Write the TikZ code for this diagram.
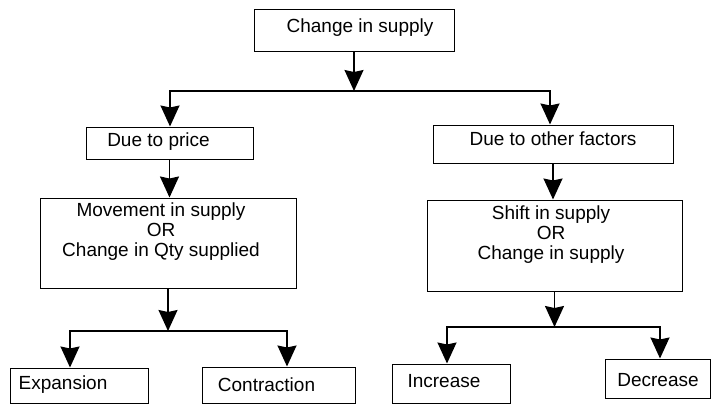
\documentclass[tikz,border=0pt]{standalone}
\usepackage{fontspec}
\setmainfont{Liberation Sans}
\usetikzlibrary{arrows.meta}
\begin{document}
\begin{tikzpicture}[x=1pt,y=-1pt,
  box/.style={draw, line width=1pt, inner sep=0pt},
  lbl/.style={inner sep=0pt, font=\fontsize{19}{20}\selectfont, align=center},
  arr/.style={line width=1.6pt, -{Stealth[length=21pt,width=19pt,inset=2pt]}},
  ln/.style={line width=1.6pt}]
\useasboundingbox (0,0) rectangle (712,405);
% boxes
\node[box, minimum width=200pt, minimum height=42pt] (top) at (354,30) {};
\node[box, minimum width=167pt, minimum height=32pt] (price) at (169.5,143) {};
\node[box, minimum width=240pt, minimum height=38pt] (other) at (553,144) {};
\node[box, minimum width=256pt, minimum height=90pt] (move) at (168,243) {};
\node[box, minimum width=255pt, minimum height=91pt] (shift) at (554.5,245.5) {};
\node[box, minimum width=138pt, minimum height=35pt] (exp) at (79,385.5) {};
\node[box, minimum width=153pt, minimum height=36pt] (con) at (278.5,385) {};
\node[box, minimum width=118pt, minimum height=39pt] (inc) at (451,383.5) {};
\node[box, minimum width=105pt, minimum height=39pt] (dec) at (657.5,378.5) {};
% texts
\node[lbl] (topt) at (360,28) {Change in supply};
\node[lbl] (pricet) at (158.5,142) {Due to price};
\node[lbl] (othert) at (553,139) {Due to other factors};
\node[lbl] (movet) at (161,232) {Movement in supply\\OR\\Change in Qty supplied};
\node[lbl] (shiftt) at (551,235) {Shift in supply\\OR\\Change in supply};
\node[lbl] (expt) at (63,385) {Expansion};
\node[lbl] (cont) at (266.5,385) {Contraction};
\node[lbl] (inct) at (444,381) {Increase};
\node[lbl] (dect) at (658,380) {Decrease};
% junctions
\coordinate (j1) at (356,91);
\coordinate (jl) at (170,91);
\coordinate (jr) at (550,91);
\coordinate (j2) at (169,331);
\coordinate (j2l) at (70,331);
\coordinate (j2r) at (287,331);
\coordinate (j3) at (551,327);
\coordinate (j3l) at (447,327);
\coordinate (j3r) at (660,327);
% connectors
\draw[arr] (top.south) -- (top.south |- j1);
\draw[arr] (j1) -- (jl) -- (jl |- price.north);
\draw[arr] (j1) -- (jr) -- (jr |- other.north);
\draw[arr] (price.south) -- (price.south |- move.north);
\draw[arr] (other.south) -- (other.south |- shift.north);
\draw[arr] (move.south) -- (move.south |- j2);
\draw[arr] (j2) -- (j2l) -- (j2l |- exp.north);
\draw[arr] (j2) -- (j2r) -- (j2r |- con.north);
\draw[arr] (shift.south) -- (shift.south |- j3);
\draw[arr] (j3) -- (j3l) -- (j3l |- inc.north);
\draw[arr] (j3) -- (j3r) -- (j3r |- dec.north);
\end{tikzpicture}
\end{document}
